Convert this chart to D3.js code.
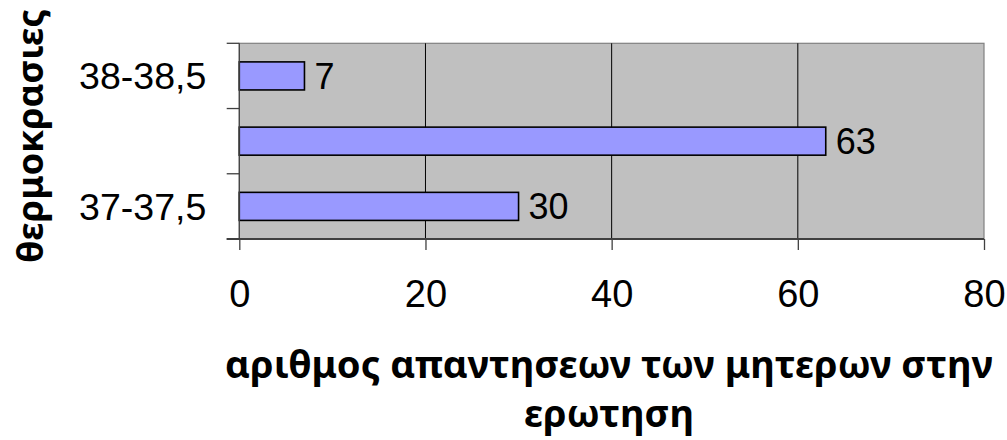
<!DOCTYPE html>
<html>
<head>
<meta charset="utf-8">
<script src="https://cdn.jsdelivr.net/npm/d3@7"></script>
<style>
  html, body { margin: 0; padding: 0; background: #ffffff; }
  svg { display: block; }
</style>
</head>
<body>
<svg id="chart" width="1007" height="440"></svg>
<script>
// Temperature ranges (bottom to top) and number of mothers' answers
const categories = ["37-37,5", "37,5-38", "38-38,5"];
const answers = [30, 63, 7];
const xTicks = [0, 20, 40, 60, 80];
const xTitleLines = ["αριθμος απαντησεων των μητερων στην", "ερωτηση"];
const yTitle = "θερμοκρασιες";

const svg = d3.select("#chart");
const plot = { left: 239.3, right: 984, top: 43.3, bottom: 239 };

const x = d3.scaleLinear().domain([0, 80]).range([plot.left, plot.right]);
// first category sits at the bottom
const y = d3.scaleBand()
  .domain(categories)
  .range([plot.bottom, plot.top])
  .paddingInner(0.57)
  .paddingOuter(0.285);
const step = y.step();

// plot background
svg.append("rect")
  .attr("x", plot.left).attr("y", plot.top)
  .attr("width", plot.right - plot.left).attr("height", plot.bottom - plot.top)
  .attr("fill", "#c0c0c0")
  .attr("stroke", "#808080").attr("stroke-width", 1.2);

// vertical gridlines
svg.append("g").selectAll("line")
  .data(xTicks.filter(d => d > 0 && d < 80))
  .join("line")
  .attr("x1", d => x(d)).attr("x2", d => x(d))
  .attr("y1", plot.top).attr("y2", plot.bottom)
  .attr("stroke", "#000").attr("stroke-width", 1);

// bars
svg.append("g").selectAll("rect")
  .data(categories.map((c, i) => ({ c, v: answers[i] })))
  .join("rect")
  .attr("x", x(0))
  .attr("y", d => y(d.c))
  .attr("width", d => x(d.v) - x(0))
  .attr("height", y.bandwidth())
  .attr("fill", "#9999ff")
  .attr("stroke", "#000").attr("stroke-width", 1.6);

// value labels
svg.append("g").selectAll("text")
  .data(categories.map((c, i) => ({ c, v: answers[i] })))
  .join("text")
  .attr("x", d => x(d.v) + 10)
  .attr("y", d => y(d.c) + y.bandwidth() / 2)
  .attr("dy", "0.35em")
  .attr("font-family", "'Liberation Sans', Arial, sans-serif")
  .attr("font-size", 36)
  .attr("fill", "#000")
  .text(d => d.v);

// x axis
const xAxis = svg.append("g")
  .attr("transform", `translate(0,${plot.bottom})`)
  .call(d3.axisBottom(x).tickValues(xTicks).tickSize(11).tickPadding(30).tickFormat(d3.format("d")));
xAxis.select(".domain").remove();
xAxis.selectAll(".tick line").attr("stroke", "#404040").attr("stroke-width", 1.3);
xAxis.selectAll(".tick text")
  .attr("font-family", "'Liberation Sans', Arial, sans-serif")
  .attr("font-size", 38)
  .attr("fill", "#000");
svg.append("line")
  .attr("x1", plot.left - 12.6).attr("x2", plot.right)
  .attr("y1", plot.bottom).attr("y2", plot.bottom)
  .attr("stroke", "#404040").attr("stroke-width", 2);

// y axis: tick marks between categories, labels on every other category
const yAxis = svg.append("g")
  .attr("transform", `translate(${plot.left},0)`)
  .call(d3.axisLeft(y).tickSize(0).tickPadding(33)
    .tickFormat((d, i) => (i % 2 === 0 ? d : "")));
yAxis.select(".domain").remove();
yAxis.selectAll(".tick text")
  .attr("font-family", "'Liberation Sans', Arial, sans-serif")
  .attr("font-size", 37.5)
  .attr("fill", "#000")
  .attr("dy", "0.36em");

const boundaries = d3.range(categories.length + 1).map(i => plot.bottom - i * step);
svg.append("g").selectAll("line")
  .data(boundaries)
  .join("line")
  .attr("x1", plot.left - 12.6).attr("x2", plot.left)
  .attr("y1", d => d).attr("y2", d => d)
  .attr("stroke", "#404040").attr("stroke-width", 1.3);
svg.append("line")
  .attr("x1", plot.left).attr("x2", plot.left)
  .attr("y1", plot.top).attr("y2", plot.bottom)
  .attr("stroke", "#404040").attr("stroke-width", 1.2);

// fit a bold title line to a given width
function fitText(sel, width) {
  sel.attr("font-size", 100);
  const w = sel.node().getComputedTextLength();
  sel.attr("font-size", 100 * width / w);
}

const titleFont = "'Noto Sans', 'Open Sans', sans-serif";
const cx = 609;
const l1 = svg.append("text")
  .attr("x", cx).attr("y", 377.5)
  .attr("text-anchor", "middle")
  .attr("font-family", titleFont).attr("font-weight", "bold")
  .attr("fill", "#000")
  .text(xTitleLines[0]);
fitText(l1, 768);
const l2 = svg.append("text")
  .attr("x", cx).attr("y", 427)
  .attr("text-anchor", "middle")
  .attr("font-family", titleFont).attr("font-weight", "bold")
  .attr("fill", "#000")
  .attr("font-size", l1.attr("font-size"))
  .text(xTitleLines[1]);

const yt = svg.append("text")
  .attr("transform", "translate(43,136) rotate(-90)")
  .attr("text-anchor", "middle")
  .attr("font-family", titleFont).attr("font-weight", "bold")
  .attr("fill", "#000")
  .text(yTitle);
fitText(yt, 254);
</script>
</body>
</html>
